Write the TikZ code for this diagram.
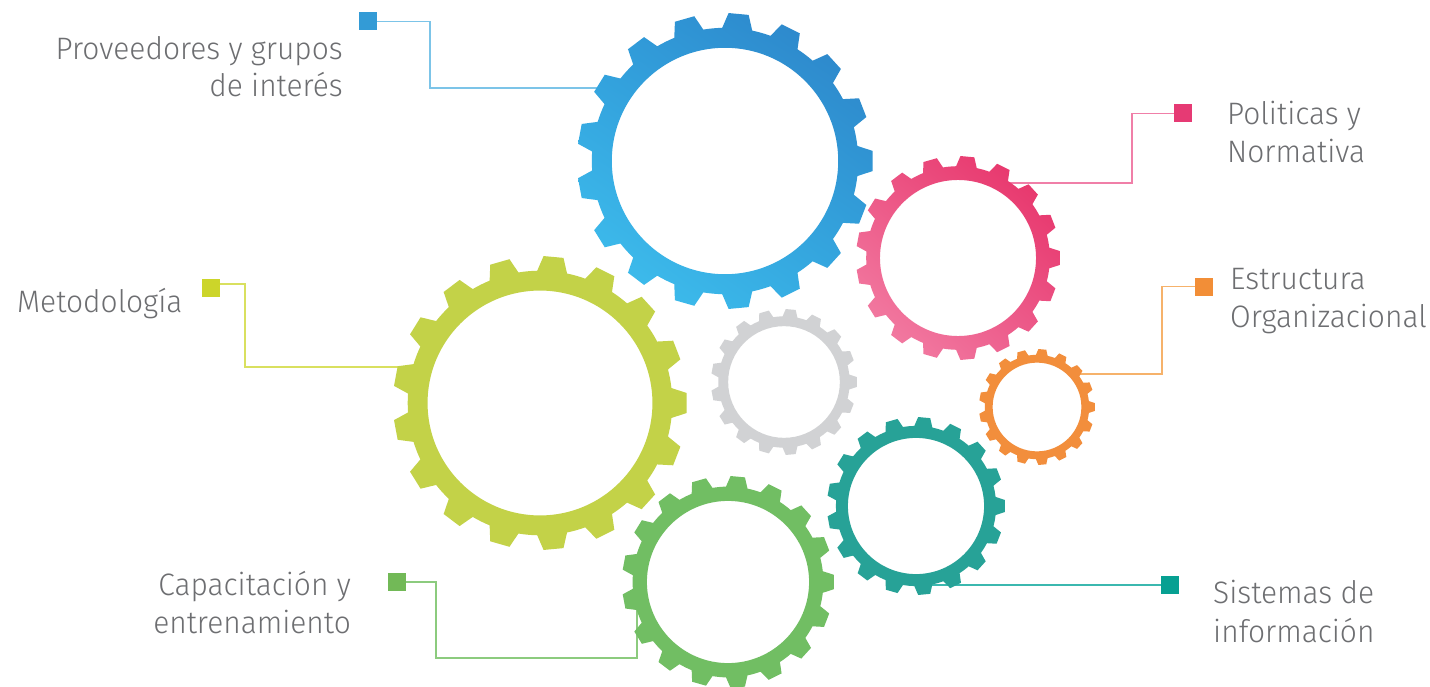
\documentclass[tikz,border=0pt]{standalone}
\usepackage{fontspec}
\setmainfont{Fira Sans Light}[FakeStretch=0.965]
\usetikzlibrary{shadings}
\definecolor{txt}{HTML}{6D6E71}
\definecolor{sqblue}{HTML}{339BD6}
\definecolor{lnblue}{HTML}{7CC4E8}
\definecolor{sqpink}{HTML}{E63A74}
\definecolor{lnpink}{HTML}{F07FA8}
\definecolor{sqorange}{HTML}{F28E37}
\definecolor{lnorange}{HTML}{F6B26B}
\definecolor{sqyellow}{HTML}{CCD52A}
\definecolor{lnyellow}{HTML}{D9E05F}
\definecolor{sqgreen}{HTML}{72B957}
\definecolor{lngreen}{HTML}{8CCB7E}
\definecolor{sqteal}{HTML}{07A092}
\definecolor{lnteal}{HTML}{3BB8AF}
\definecolor{gyellow}{HTML}{C3D248}
\definecolor{ggray}{HTML}{D1D2D4}
\definecolor{ggreen}{HTML}{71BE63}
\definecolor{gteal}{HTML}{27A297}
\definecolor{gorange}{HTML}{F28E3C}
\definecolor{bUL}{HTML}{309CDA}
\definecolor{bUR}{HTML}{2C80C6}
\definecolor{bLL}{HTML}{40C3F0}
\definecolor{bLR}{HTML}{34A8E0}
\definecolor{pUL}{HTML}{EC5484}
\definecolor{pUR}{HTML}{E62C64}
\definecolor{pLL}{HTML}{F486AA}
\definecolor{pLR}{HTML}{EC5A8A}
\newcommand\mygear[4]{%
  \pgfmathsetmacro\gR{#3}%
  \pgfmathsetmacro\gr{0.9*#3}%
  \pgfmathsetmacro\gh{0.765*#3}%
  \coordinate (#1) at (#2);
  \path[#4, even odd rule, shift={(#2)}]
    (-6.5:\gr) \foreach \k in {0,...,16}{
      -- ({\k*360/17-3.9}:\gR) -- ({\k*360/17+3.9}:\gR) -- ({\k*360/17+6.5}:\gr)
      arc[start angle={\k*360/17+6.5}, delta angle={360/17-13}, radius=\gr]} -- cycle
    (0,0) circle[radius=\gh];
}
\tikzset{
  sqbox/.style={minimum size=18pt, inner sep=0pt, outer sep=0pt},
  conn/.style={line width=1.4pt},
  lbl/.style={inner sep=0pt, text=txt, font=\fontsize{31}{37}\selectfont},
}
\begin{document}
\begin{tikzpicture}[x=1pt,y=-1pt]
\useasboundingbox[fill=white] (0,0) rectangle (1430,687);
% end points of connectors inside the gear rings
\coordinate (bend) at (620,88);
\coordinate (pend) at (1000,183);
\coordinate (oend) at (1072,374);
\coordinate (yend) at (420,367);
\coordinate (gcorner) at (637,658);
\coordinate (gend) at (637,600);
\coordinate (tend) at (925,585);
% squares
\node[sqbox, fill=sqblue] (bsq) at (368,21.5) {};
\node[sqbox, fill=sqpink] (psq) at (1183,113.5) {};
\node[sqbox, fill=sqorange] (osq) at (1204,286.5) {};
\node[sqbox, fill=sqyellow] (ysq) at (211,288) {};
\node[sqbox, fill=sqgreen] (gsq) at (397,582) {};
\node[sqbox, fill=sqteal] (tsq) at (1170,585) {};
% connectors
\draw[conn, lnblue] (bsq.east) -- ++(53,0) |- (bend);
\draw[conn, lnpink] (psq.west) -- ++(-42,0) |- (pend);
\draw[conn, lnorange] (osq.west) -- ++(-33,0) |- (oend);
\draw[conn, lnyellow] ([yshift=4pt]ysq.east) -- ++(25,0) |- (yend);
\draw[conn, lngreen] (gsq.east) -- ++(30,0) |- (gcorner) -- (gend);
\draw[conn, lnteal] (tsq.west) -- (tend);
% gears
\mygear{gblue}{725,161}{148}{shade, upper left=bUL, upper right=bUR, lower left=bLL, lower right=bLR}
\mygear{gpink}{958,258}{102}{shade, upper left=pUL, upper right=pUR, lower left=pLL, lower right=pLR}
\mygear{gorg}{1037,407}{58}{fill=gorange}
\mygear{ggry}{784,382}{73}{fill=ggray}
\mygear{gyel}{540,403}{147}{fill=gyellow}
\mygear{ggrn}{728,582}{106}{fill=ggreen}
\mygear{gtl}{916,506}{89}{fill=gteal}
% labels
\node[lbl, anchor=base east] (t1a) at (343,60) {Proveedores y grupos};
\node[lbl, anchor=base east] (t1b) at (343,97) {de interés};
\node[lbl, anchor=base west] (t2a) at (1227,125) {Politicas y};
\node[lbl, anchor=base west] (t2b) at (1227,163) {Normativa};
\node[lbl, anchor=base west] (t3a) at (1230,289) {Estructura};
\node[lbl, anchor=base west] (t3b) at (1230,327) {Organizacional};
\node[lbl, anchor=base west] (t4) at (17,312) {Metodología};
\node[lbl, anchor=base east] (t5a) at (351,595) {Capacitación y};
\node[lbl, anchor=base east] (t5b) at (351,633) {entrenamiento};
\node[lbl, anchor=base west] (t6a) at (1213,603) {Sistemas de};
\node[lbl, anchor=base west] (t6b) at (1213,642) {información};
\end{tikzpicture}
\end{document}
